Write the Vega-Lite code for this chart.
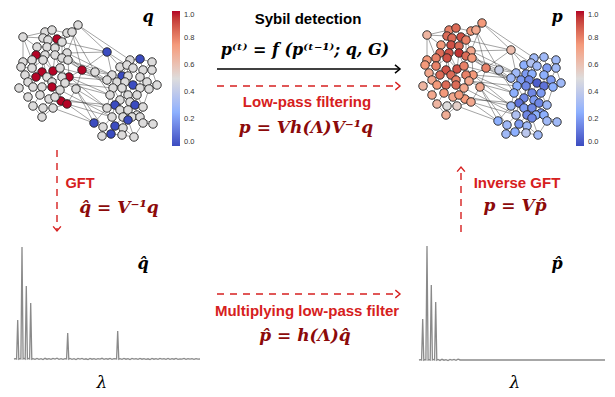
{
  "$schema": "https://vega.github.io/schema/vega-lite/v6.json",
  "width": 615,
  "height": 397,
  "autosize": {"type": "fit", "contains": "padding"},
  "padding": 0,
  "background": "white",
  "config": {"view": {"stroke": null}},
  "datasets": {
    "nodes": [
      {"id":1,"x":78,"y":25,"q":0.5,"p":0.75},{"id":2,"x":45,"y":32,"q":0.5,"p":0.8},{"id":3,"x":52,"y":30,"q":0.5,"p":0.85},{"id":4,"x":67,"y":33,"q":0.5,"p":0.75},{"id":5,"x":72,"y":32,"q":0.5,"p":0.7},
      {"id":6,"x":23,"y":37,"q":0.5,"p":0.65},{"id":7,"x":43,"y":38,"q":0.5,"p":0.85},{"id":8,"x":57,"y":39,"q":1,"p":0.9},{"id":9,"x":48,"y":40,"q":0.5,"p":0.85},{"id":10,"x":62,"y":42,"q":0.5,"p":0.8},
      {"id":11,"x":37,"y":47,"q":0.5,"p":0.75},{"id":12,"x":36,"y":55,"q":1,"p":0.85},{"id":13,"x":47,"y":47,"q":0.5,"p":0.9},{"id":14,"x":55,"y":48,"q":0.5,"p":0.85},{"id":15,"x":67,"y":53,"q":0.5,"p":0.7},
      {"id":16,"x":45,"y":55,"q":0.5,"p":0.9},{"id":17,"x":55,"y":55,"q":0.5,"p":0.95},{"id":18,"x":62,"y":58,"q":0.5,"p":0.85},{"id":19,"x":23,"y":62,"q":0.5,"p":0.75},{"id":20,"x":32,"y":60,"q":0.5,"p":0.8},
      {"id":21,"x":43,"y":60,"q":0.5,"p":0.9},{"id":22,"x":68,"y":60,"q":0.5,"p":0.75},{"id":23,"x":21,"y":67,"q":0.5,"p":0.75},{"id":24,"x":32,"y":68,"q":0.5,"p":0.8},{"id":25,"x":42,"y":72,"q":1,"p":0.9},
      {"id":26,"x":53,"y":71,"q":1,"p":0.9},{"id":27,"x":60,"y":68,"q":0.5,"p":0.8},{"id":28,"x":82,"y":70,"q":1,"p":0.8},{"id":29,"x":25,"y":75,"q":0.5,"p":0.7},{"id":30,"x":36,"y":77,"q":1,"p":0.85},
      {"id":31,"x":47,"y":77,"q":0.5,"p":0.85},{"id":32,"x":52,"y":82,"q":0.5,"p":0.8},{"id":33,"x":69,"y":77,"q":1,"p":0.75},{"id":34,"x":62,"y":77,"q":0.5,"p":0.8},{"id":35,"x":28,"y":82,"q":0.5,"p":0.7},
      {"id":36,"x":42,"y":87,"q":0.5,"p":0.85},{"id":37,"x":52,"y":87,"q":1,"p":0.85},{"id":38,"x":19,"y":88,"q":0.5,"p":0.65},{"id":39,"x":33,"y":87,"q":0.5,"p":0.75},{"id":40,"x":65,"y":83,"q":0.5,"p":0.7},
      {"id":41,"x":76,"y":89,"q":0.5,"p":0.7},{"id":42,"x":60,"y":90,"q":0.5,"p":0.7},{"id":43,"x":40,"y":95,"q":0.5,"p":0.75},{"id":44,"x":49,"y":99,"q":0.5,"p":0.7},{"id":45,"x":61,"y":101,"q":1,"p":0.75},
      {"id":46,"x":67,"y":104,"q":1,"p":0.7},{"id":47,"x":33,"y":106,"q":0.5,"p":0.65},{"id":48,"x":43,"y":108,"q":0.5,"p":0.5},{"id":49,"x":53,"y":108,"q":0.5,"p":0.55},{"id":50,"x":42,"y":117,"q":0.5,"p":0.68},
      {"id":51,"x":28,"y":97,"q":0.5,"p":0.7},{"id":52,"x":55,"y":97,"q":0.5,"p":0.75},
      {"id":53,"x":107,"y":52,"q":0,"p":0.62},{"id":54,"x":140,"y":59,"q":0,"p":0.3},{"id":55,"x":130,"y":60,"q":0.5,"p":0.3},{"id":56,"x":152,"y":62,"q":0.5,"p":0.3},{"id":57,"x":120,"y":67,"q":0.5,"p":0.25},
      {"id":58,"x":127,"y":65,"q":0.5,"p":0.35},{"id":59,"x":133,"y":68,"q":0.5,"p":0.3},{"id":60,"x":143,"y":70,"q":0.5,"p":0.2},{"id":61,"x":152,"y":70,"q":0.5,"p":0.3},{"id":62,"x":95,"y":72,"q":0.5,"p":0.42},
      {"id":63,"x":122,"y":76,"q":0,"p":0.2},{"id":64,"x":112,"y":75,"q":0.5,"p":0.3},{"id":65,"x":128,"y":76,"q":0.5,"p":0.25},{"id":66,"x":140,"y":77,"q":0.5,"p":0.25},{"id":67,"x":107,"y":80,"q":0.5,"p":0.3},
      {"id":68,"x":117,"y":82,"q":0.5,"p":0.2},{"id":69,"x":125,"y":82,"q":0.5,"p":0.15},{"id":70,"x":147,"y":82,"q":0.5,"p":0.2},{"id":71,"x":133,"y":85,"q":0,"p":0.05},{"id":72,"x":157,"y":85,"q":0.5,"p":0.3},
      {"id":73,"x":113,"y":88,"q":0.5,"p":0.25},{"id":74,"x":122,"y":88,"q":0.5,"p":0.15},{"id":75,"x":140,"y":88,"q":0.5,"p":0.1},{"id":76,"x":149,"y":89,"q":0.5,"p":0.25},{"id":77,"x":110,"y":95,"q":0.5,"p":0.25},
      {"id":78,"x":128,"y":95,"q":0.5,"p":0.15},{"id":79,"x":137,"y":95,"q":0.5,"p":0.2},{"id":80,"x":120,"y":100,"q":0.5,"p":0.15},{"id":81,"x":115,"y":105,"q":0,"p":0.1},{"id":82,"x":130,"y":102,"q":0.5,"p":0.2},
      {"id":83,"x":135,"y":105,"q":0,"p":0.15},{"id":84,"x":143,"y":107,"q":0.5,"p":0.3},{"id":85,"x":107,"y":108,"q":0.5,"p":0.3},{"id":86,"x":120,"y":110,"q":0.5,"p":0.2},{"id":87,"x":128,"y":110,"q":0.5,"p":0.15},
      {"id":88,"x":137,"y":115,"q":0.5,"p":0.2},{"id":89,"x":112,"y":117,"q":0.5,"p":0.35},{"id":90,"x":123,"y":117,"q":0.5,"p":0.15},{"id":91,"x":132,"y":117,"q":0.5,"p":0.25},{"id":92,"x":140,"y":117,"q":0.5,"p":0.25},
      {"id":93,"x":94,"y":123,"q":0,"p":0.25},{"id":94,"x":115,"y":126,"q":0,"p":0.2},{"id":95,"x":128,"y":120,"q":0,"p":0.15},{"id":96,"x":103,"y":127,"q":0.5,"p":0.3},{"id":97,"x":143,"y":123,"q":0.5,"p":0.3},
      {"id":98,"x":153,"y":124,"q":0.5,"p":0.3},{"id":99,"x":123,"y":128,"q":0.5,"p":0.3},{"id":100,"x":111,"y":134,"q":0,"p":0.25},{"id":101,"x":102,"y":136,"q":0.5,"p":0.3},{"id":102,"x":122,"y":135,"q":0.5,"p":0.38},
      {"id":103,"x":134,"y":137,"q":0.5,"p":0.3}
    ],
    "edges": [
      {"s":1,"t":5},{"s":1,"t":4},{"s":1,"t":10},{"s":1,"t":53},{"s":1,"t":15},{"s":2,"t":3},{"s":2,"t":7},{"s":2,"t":6},{"s":2,"t":9},{"s":3,"t":8},
      {"s":3,"t":4},{"s":3,"t":9},{"s":4,"t":5},{"s":4,"t":10},{"s":4,"t":8},{"s":5,"t":10},{"s":5,"t":28},{"s":6,"t":11},{"s":6,"t":7},{"s":6,"t":19},
      {"s":6,"t":20},{"s":7,"t":9},{"s":7,"t":11},{"s":7,"t":13},{"s":8,"t":9},{"s":8,"t":10},{"s":8,"t":14},{"s":9,"t":13},{"s":10,"t":14},{"s":10,"t":15},
      {"s":10,"t":18},{"s":11,"t":12},{"s":11,"t":13},{"s":11,"t":20},{"s":12,"t":16},{"s":12,"t":20},{"s":12,"t":24},{"s":13,"t":14},{"s":13,"t":16},{"s":14,"t":17},
      {"s":14,"t":18},{"s":15,"t":22},{"s":15,"t":18},{"s":15,"t":28},{"s":16,"t":17},{"s":16,"t":21},{"s":17,"t":18},{"s":17,"t":26},{"s":17,"t":27},{"s":18,"t":22},
      {"s":18,"t":27},{"s":19,"t":20},{"s":19,"t":23},{"s":20,"t":24},{"s":21,"t":25},{"s":21,"t":24},{"s":21,"t":26},{"s":22,"t":27},{"s":22,"t":28},{"s":22,"t":33},
      {"s":23,"t":29},{"s":23,"t":24},{"s":24,"t":30},{"s":25,"t":30},{"s":25,"t":31},{"s":26,"t":31},{"s":26,"t":32},{"s":27,"t":34},{"s":27,"t":33},{"s":28,"t":33},
      {"s":28,"t":41},{"s":29,"t":35},{"s":29,"t":30},{"s":30,"t":39},{"s":31,"t":32},{"s":31,"t":36},{"s":32,"t":37},{"s":32,"t":34},{"s":33,"t":40},{"s":34,"t":40},
      {"s":34,"t":42},{"s":35,"t":38},{"s":35,"t":39},{"s":36,"t":37},{"s":36,"t":43},{"s":37,"t":42},{"s":37,"t":52},{"s":38,"t":51},{"s":39,"t":43},{"s":39,"t":51},
      {"s":40,"t":41},{"s":40,"t":42},{"s":41,"t":46},{"s":42,"t":45},{"s":43,"t":44},{"s":43,"t":47},{"s":44,"t":48},{"s":44,"t":49},{"s":44,"t":52},{"s":45,"t":46},
      {"s":45,"t":52},{"s":46,"t":49},{"s":47,"t":48},{"s":47,"t":50},{"s":48,"t":50},{"s":49,"t":50},{"s":51,"t":47},{"s":12,"t":30},{"s":21,"t":31},{"s":16,"t":26},
      {"s":3,"t":7},{"s":9,"t":14},
      {"s":53,"t":58},{"s":53,"t":57},{"s":53,"t":64},{"s":54,"t":56},{"s":54,"t":59},{"s":54,"t":60},{"s":55,"t":58},{"s":55,"t":59},{"s":55,"t":54},{"s":56,"t":61},
      {"s":56,"t":60},{"s":57,"t":58},{"s":57,"t":63},{"s":57,"t":64},{"s":58,"t":65},{"s":59,"t":65},{"s":59,"t":66},{"s":60,"t":61},{"s":60,"t":66},{"s":61,"t":70},
      {"s":61,"t":72},{"s":62,"t":67},{"s":62,"t":64},{"s":62,"t":77},{"s":63,"t":65},{"s":63,"t":68},{"s":63,"t":69},{"s":64,"t":67},{"s":64,"t":68},{"s":65,"t":69},
      {"s":65,"t":71},{"s":66,"t":70},{"s":66,"t":71},{"s":66,"t":75},{"s":67,"t":73},{"s":68,"t":73},{"s":68,"t":74},{"s":69,"t":71},{"s":69,"t":74},{"s":70,"t":72},
      {"s":70,"t":76},{"s":71,"t":75},{"s":71,"t":78},{"s":72,"t":76},{"s":73,"t":77},{"s":73,"t":80},{"s":74,"t":78},{"s":74,"t":80},{"s":75,"t":76},{"s":75,"t":79},
      {"s":76,"t":84},{"s":77,"t":85},{"s":77,"t":81},{"s":78,"t":79},{"s":78,"t":82},{"s":79,"t":83},{"s":79,"t":84},{"s":80,"t":81},{"s":80,"t":86},{"s":81,"t":85},
      {"s":81,"t":89},{"s":82,"t":83},{"s":82,"t":87},{"s":83,"t":84},{"s":83,"t":88},{"s":84,"t":92},{"s":85,"t":89},{"s":85,"t":93},{"s":86,"t":87},{"s":86,"t":90},
      {"s":87,"t":88},{"s":87,"t":95},{"s":88,"t":91},{"s":88,"t":92},{"s":89,"t":94},{"s":89,"t":96},{"s":90,"t":94},{"s":90,"t":95},{"s":90,"t":99},{"s":91,"t":95},
      {"s":91,"t":97},{"s":92,"t":97},{"s":92,"t":98},{"s":93,"t":96},{"s":94,"t":100},{"s":94,"t":99},{"s":96,"t":101},{"s":96,"t":100},{"s":97,"t":98},{"s":97,"t":103},
      {"s":99,"t":102},{"s":99,"t":103},{"s":100,"t":101},{"s":100,"t":102},{"s":102,"t":103},{"s":95,"t":103},{"s":69,"t":78},{"s":74,"t":86},{"s":75,"t":82},{"s":58,"t":63},
      {"s":28,"t":62},{"s":28,"t":67},{"s":28,"t":53},{"s":15,"t":53},{"s":22,"t":62},{"s":33,"t":77},{"s":33,"t":85},{"s":40,"t":73},{"s":41,"t":85},{"s":41,"t":93},
      {"s":46,"t":93},{"s":46,"t":89},{"s":45,"t":81},{"s":52,"t":85},{"s":22,"t":64},{"s":27,"t":67},{"s":18,"t":73},{"s":41,"t":96},{"s":40,"t":77},{"s":33,"t":67},
      {"s":1,"t":55},{"s":10,"t":53},{"s":5,"t":62},{"s":15,"t":64},{"s":42,"t":89},{"s":49,"t":93}
    ],
    "specL": [
      {"x":14,"y":359},{"x":15.5,"y":358.6},{"x":16.6,"y":359},{"x":17.7,"y":320},{"x":18.8,"y":359.2},{"x":19.9,"y":358.7},{"x":20.9,"y":359},{"x":22,"y":247},{"x":23.1,"y":359},{"x":24.1,"y":358.5},
      {"x":25.2,"y":359.1},{"x":26.3,"y":286},{"x":27.4,"y":359},{"x":28.5,"y":358.4},{"x":29.6,"y":359},{"x":30.7,"y":303},{"x":31.8,"y":359.2},{"x":33,"y":358.6},{"x":35,"y":359.4},{"x":37,"y":358.5},
      {"x":39,"y":359.3},{"x":41,"y":358.7},{"x":43,"y":359.5},{"x":45,"y":358.3},{"x":47,"y":359.2},{"x":49,"y":358.6},{"x":51,"y":359.4},{"x":53,"y":358.4},{"x":55,"y":359.1},{"x":57,"y":358.2},
      {"x":59,"y":359.3},{"x":61,"y":358.7},{"x":63,"y":359.4},{"x":65,"y":358.6},{"x":66.6,"y":359},{"x":67.7,"y":333},{"x":68.8,"y":359.2},{"x":70,"y":358.5},{"x":72,"y":359.3},{"x":74,"y":358.7},
      {"x":76,"y":359.5},{"x":78,"y":358.5},{"x":80,"y":359.1},{"x":82,"y":358.4},{"x":84,"y":359.3},{"x":86,"y":358.8},{"x":88,"y":359.5},{"x":90,"y":358.4},{"x":92,"y":359.2},{"x":94,"y":358.6},
      {"x":96,"y":359.4},{"x":98,"y":358.7},{"x":100,"y":359.1},{"x":102,"y":358.3},{"x":104,"y":359.4},{"x":106,"y":358.6},{"x":108,"y":359.2},{"x":110,"y":358.5},{"x":112,"y":359.3},{"x":114,"y":358.7},
      {"x":116.6,"y":359},{"x":117.7,"y":331},{"x":118.8,"y":359.2},{"x":120,"y":358.6},{"x":122,"y":359.4},{"x":124,"y":358.5},{"x":126,"y":359.2},{"x":128,"y":358.6},{"x":130,"y":359.5},{"x":132,"y":358.4},
      {"x":134,"y":359.1},{"x":136,"y":358.7},{"x":138,"y":359.4},{"x":140,"y":358.5},{"x":142,"y":359.2},{"x":144,"y":358.6},{"x":146,"y":359.3},{"x":148,"y":358.8},{"x":150,"y":359.5},{"x":152,"y":358.4},
      {"x":154,"y":359.2},{"x":156,"y":358.7},{"x":158,"y":359.4},{"x":160,"y":358.5},{"x":162,"y":359.1},{"x":164,"y":358.6},{"x":166,"y":359.3},{"x":168,"y":358.5},{"x":170,"y":359.4},{"x":172,"y":358.7},
      {"x":174,"y":359.2},{"x":176,"y":358.4},{"x":178,"y":359.3},{"x":180,"y":358.8},{"x":182,"y":359.1},{"x":184,"y":358.5},{"x":186,"y":359.4},{"x":188,"y":358.6},{"x":190,"y":359.2},{"x":192,"y":358.7},
      {"x":194,"y":359.3},{"x":196,"y":358.6},{"x":198,"y":359.1},{"x":200,"y":359}
    ],
    "specR": [
      {"x":419,"y":360},{"x":420.5,"y":359.6},{"x":421.6,"y":360},{"x":422.7,"y":319},{"x":423.8,"y":360.2},{"x":424.9,"y":359.7},{"x":425.9,"y":360},{"x":427,"y":246},{"x":428.1,"y":360},{"x":429.1,"y":359.6},
      {"x":430.2,"y":360.1},{"x":431.3,"y":285},{"x":432.4,"y":360},{"x":433.5,"y":359.5},{"x":434.6,"y":360},{"x":435.7,"y":302},{"x":436.8,"y":360.2},{"x":438,"y":359.5},{"x":440,"y":360.4},{"x":442,"y":359.3},
      {"x":444,"y":360.2},{"x":446,"y":359.6},{"x":448,"y":360.5},{"x":450,"y":359.4},{"x":452,"y":360.1},{"x":454,"y":359.5},{"x":456,"y":360.3},{"x":458,"y":359.1},{"x":459,"y":359.4},{"x":460,"y":360},
      {"x":605,"y":360}
    ],
    "arrows": [
      {"x":217,"y":69,"x2":400,"y2":69,"k":"solid","a":0},
      {"x":217,"y":86,"x2":400,"y2":86,"k":"dash","a":0},
      {"x":217,"y":294,"x2":400,"y2":294,"k":"dash","a":0},
      {"x":57,"y":150,"x2":57,"y2":231,"k":"dash","a":90},
      {"x":461,"y":232,"x2":461,"y2":167,"k":"dash","a":-90}
    ],
    "labels": [
      {"t":"Sybil detection","x":308,"y":24,"g":"black"},
      {"t":"Low-pass filtering","x":307,"y":107,"g":"red"},
      {"t":"GFT","x":80,"y":188,"g":"redsmall"},
      {"t":"Inverse GFT","x":517,"y":188,"g":"red"},
      {"t":"Multiplying low-pass filter","x":307,"y":316,"g":"red"},
      {"t":"p⁽ᵗ⁾ = f (p⁽ᵗ⁻¹⁾; q, G)","x":305,"y":55,"g":"mathk"},
      {"t":"p = Vh(Λ)V⁻¹q","x":306,"y":133,"g":"mathr"},
      {"t":"q̂ = V⁻¹q","x":119,"y":213,"g":"mathr"},
      {"t":"p = Vp̂","x":515,"y":211,"g":"mathr"},
      {"t":"p̂ = h(Λ)q̂","x":305,"y":341,"g":"mathr"},
      {"t":"q","x":148,"y":22,"g":"mathk"},
      {"t":"p","x":557,"y":22,"g":"mathk"},
      {"t":"q̂","x":143,"y":269,"g":"mathk"},
      {"t":"p̂","x":557,"y":269,"g":"mathk"},
      {"t":"λ","x":102,"y":388,"g":"lam"},
      {"t":"λ","x":515,"y":388,"g":"lam"}
    ]
  },
  "layer": [
    {
      "layer": [
        {
          "data": {"name": "edges"},
          "transform": [
            {"lookup": "s", "from": {"data": {"name": "nodes"}, "key": "id", "fields": ["x", "y"]}},
            {"lookup": "t", "from": {"data": {"name": "nodes"}, "key": "id", "fields": ["x", "y"]}, "as": ["x2", "y2"]}
          ],
          "mark": {"type": "rule", "stroke": "#3a3a3a", "strokeWidth": 0.55, "opacity": 0.85},
          "encoding": {
            "x": {"field": "x", "type": "quantitative", "scale": {"domain": [0, 615], "nice": false, "zero": false}, "axis": null},
            "y": {"field": "y", "type": "quantitative", "scale": {"domain": [0, 397], "nice": false, "zero": false, "reverse": true}, "axis": null},
            "x2": {"field": "x2"},
            "y2": {"field": "y2"}
          }
        },
        {
          "data": {"name": "nodes"},
          "mark": {"type": "point", "shape": "circle", "filled": true, "size": 72, "stroke": "#222222", "strokeWidth": 0.9, "opacity": 1},
          "encoding": {
            "x": {"field": "x", "type": "quantitative", "scale": {"domain": [0, 615], "nice": false, "zero": false}, "axis": null},
            "y": {"field": "y", "type": "quantitative", "scale": {"domain": [0, 397], "nice": false, "zero": false, "reverse": true}, "axis": null},
            "fill": {
              "field": "q", "type": "quantitative",
              "scale": {"domain": [0, 1], "range": ["#3b4cc0", "#8db0fe", "#dddcdc", "#f49a7b", "#b40426"], "interpolate": "lab"},
              "legend": {"orient": "none", "legendX": 172, "legendY": 11, "direction": "vertical", "gradientLength": 135, "gradientThickness": 8, "title": null, "values": [0, 0.2, 0.4, 0.6, 0.8, 1], "format": ".1f", "labelFontSize": 7.5, "labelColor": "#333333", "labelOffset": 4, "gradientStrokeWidth": 0, "padding": 0}
            }
          }
        },
        {
          "data": {"name": "specL"},
          "mark": {"type": "line", "color": "#8a8a8a", "strokeWidth": 1.3},
          "encoding": {
            "x": {"field": "x", "type": "quantitative", "scale": {"domain": [0, 615], "nice": false, "zero": false}, "axis": null},
            "y": {"field": "y", "type": "quantitative", "scale": {"domain": [0, 397], "nice": false, "zero": false, "reverse": true}, "axis": null}
          }
        },
        {
          "data": {"name": "specR"},
          "mark": {"type": "line", "color": "#8a8a8a", "strokeWidth": 1.3},
          "encoding": {
            "x": {"field": "x", "type": "quantitative", "scale": {"domain": [0, 615], "nice": false, "zero": false}, "axis": null},
            "y": {"field": "y", "type": "quantitative", "scale": {"domain": [0, 397], "nice": false, "zero": false, "reverse": true}, "axis": null}
          }
        },
        {
          "data": {"name": "arrows"},
          "transform": [{"filter": "datum.k == 'solid'"}],
          "mark": {"type": "rule", "stroke": "#000000", "strokeWidth": 1.5},
          "encoding": {
            "x": {"field": "x", "type": "quantitative", "scale": {"domain": [0, 615], "nice": false, "zero": false}, "axis": null},
            "y": {"field": "y", "type": "quantitative", "scale": {"domain": [0, 397], "nice": false, "zero": false, "reverse": true}, "axis": null},
            "x2": {"field": "x2"},
            "y2": {"field": "y2"}
          }
        },
        {
          "data": {"name": "arrows"},
          "transform": [{"filter": "datum.k == 'dash'"}],
          "mark": {"type": "rule", "stroke": "#d62020", "strokeWidth": 1.4, "strokeDash": [7, 6]},
          "encoding": {
            "x": {"field": "x", "type": "quantitative", "scale": {"domain": [0, 615], "nice": false, "zero": false}, "axis": null},
            "y": {"field": "y", "type": "quantitative", "scale": {"domain": [0, 397], "nice": false, "zero": false, "reverse": true}, "axis": null},
            "x2": {"field": "x2"},
            "y2": {"field": "y2"}
          }
        },
        {
          "data": {"name": "arrows"},
          "transform": [{"filter": "datum.k == 'solid'"}],
          "mark": {"type": "point", "shape": "M-1.2,-1L0,0L-1.2,1", "filled": false, "size": 70, "stroke": "#000000", "strokeWidth": 1.5, "opacity": 1},
          "encoding": {
            "x": {"field": "x2", "type": "quantitative", "scale": {"domain": [0, 615], "nice": false, "zero": false}, "axis": null},
            "y": {"field": "y2", "type": "quantitative", "scale": {"domain": [0, 397], "nice": false, "zero": false, "reverse": true}, "axis": null},
            "angle": {"field": "a", "type": "quantitative", "scale": null}
          }
        },
        {
          "data": {"name": "arrows"},
          "transform": [{"filter": "datum.k == 'dash'"}],
          "mark": {"type": "point", "shape": "M-1.2,-1L0,0L-1.2,1", "filled": false, "size": 60, "stroke": "#d62020", "strokeWidth": 1.4, "opacity": 1},
          "encoding": {
            "x": {"field": "x2", "type": "quantitative", "scale": {"domain": [0, 615], "nice": false, "zero": false}, "axis": null},
            "y": {"field": "y2", "type": "quantitative", "scale": {"domain": [0, 397], "nice": false, "zero": false, "reverse": true}, "axis": null},
            "angle": {"field": "a", "type": "quantitative", "scale": null}
          }
        },
        {
          "data": {"name": "labels"},
          "transform": [{"filter": "datum.g == 'black'"}],
          "mark": {"type": "text", "font": "Liberation Sans", "fontWeight": "bold", "fontSize": 15, "color": "#000000", "align": "center", "baseline": "alphabetic"},
          "encoding": {
            "x": {"field": "x", "type": "quantitative", "scale": {"domain": [0, 615], "nice": false, "zero": false}, "axis": null},
            "y": {"field": "y", "type": "quantitative", "scale": {"domain": [0, 397], "nice": false, "zero": false, "reverse": true}, "axis": null},
            "text": {"field": "t"}
          }
        },
        {
          "data": {"name": "labels"},
          "transform": [{"filter": "datum.g == 'red'"}],
          "mark": {"type": "text", "font": "Liberation Sans", "fontWeight": "bold", "fontSize": 15, "color": "#d62020", "align": "center", "baseline": "alphabetic"},
          "encoding": {
            "x": {"field": "x", "type": "quantitative", "scale": {"domain": [0, 615], "nice": false, "zero": false}, "axis": null},
            "y": {"field": "y", "type": "quantitative", "scale": {"domain": [0, 397], "nice": false, "zero": false, "reverse": true}, "axis": null},
            "text": {"field": "t"}
          }
        },
        {
          "data": {"name": "labels"},
          "transform": [{"filter": "datum.g == 'redsmall'"}],
          "mark": {"type": "text", "font": "Liberation Sans", "fontWeight": "bold", "fontSize": 14.5, "color": "#d62020", "align": "center", "baseline": "alphabetic"},
          "encoding": {
            "x": {"field": "x", "type": "quantitative", "scale": {"domain": [0, 615], "nice": false, "zero": false}, "axis": null},
            "y": {"field": "y", "type": "quantitative", "scale": {"domain": [0, 397], "nice": false, "zero": false, "reverse": true}, "axis": null},
            "text": {"field": "t"}
          }
        },
        {
          "data": {"name": "labels"},
          "transform": [{"filter": "datum.g == 'mathk'"}],
          "mark": {"type": "text", "font": "DejaVu Serif", "fontWeight": "bold", "fontStyle": "italic", "fontSize": 16, "color": "#000000", "align": "center", "baseline": "alphabetic"},
          "encoding": {
            "x": {"field": "x", "type": "quantitative", "scale": {"domain": [0, 615], "nice": false, "zero": false}, "axis": null},
            "y": {"field": "y", "type": "quantitative", "scale": {"domain": [0, 397], "nice": false, "zero": false, "reverse": true}, "axis": null},
            "text": {"field": "t"}
          }
        },
        {
          "data": {"name": "labels"},
          "transform": [{"filter": "datum.g == 'mathr'"}],
          "mark": {"type": "text", "font": "DejaVu Serif", "fontWeight": "bold", "fontStyle": "italic", "fontSize": 17, "color": "#8c0a0a", "align": "center", "baseline": "alphabetic"},
          "encoding": {
            "x": {"field": "x", "type": "quantitative", "scale": {"domain": [0, 615], "nice": false, "zero": false}, "axis": null},
            "y": {"field": "y", "type": "quantitative", "scale": {"domain": [0, 397], "nice": false, "zero": false, "reverse": true}, "axis": null},
            "text": {"field": "t"}
          }
        },
        {
          "data": {"name": "labels"},
          "transform": [{"filter": "datum.g == 'lam'"}],
          "mark": {"type": "text", "font": "DejaVu Serif", "fontStyle": "italic", "fontSize": 17, "color": "#000000", "align": "center", "baseline": "alphabetic"},
          "encoding": {
            "x": {"field": "x", "type": "quantitative", "scale": {"domain": [0, 615], "nice": false, "zero": false}, "axis": null},
            "y": {"field": "y", "type": "quantitative", "scale": {"domain": [0, 397], "nice": false, "zero": false, "reverse": true}, "axis": null},
            "text": {"field": "t"}
          }
        }
      ]
    },
    {
      "layer": [
        {
          "data": {"name": "edges"},
          "transform": [
            {"lookup": "s", "from": {"data": {"name": "nodes"}, "key": "id", "fields": ["x", "y"]}},
            {"lookup": "t", "from": {"data": {"name": "nodes"}, "key": "id", "fields": ["x", "y"]}, "as": ["x2", "y2"]}
          ],
          "mark": {"type": "rule", "stroke": "#3a3a3a", "strokeWidth": 0.55, "opacity": 0.85},
          "encoding": {
            "x": {"field": "x", "type": "quantitative", "scale": {"domain": [-404, 211], "nice": false, "zero": false}, "axis": null},
            "y": {"field": "y", "type": "quantitative", "scale": {"domain": [2, 399], "nice": false, "zero": false, "reverse": true}, "axis": null},
            "x2": {"field": "x2"},
            "y2": {"field": "y2"}
          }
        },
        {
          "data": {"name": "nodes"},
          "mark": {"type": "point", "shape": "circle", "filled": true, "size": 72, "stroke": "#222222", "strokeWidth": 0.9, "opacity": 1},
          "encoding": {
            "x": {"field": "x", "type": "quantitative", "scale": {"domain": [-404, 211], "nice": false, "zero": false}, "axis": null},
            "y": {"field": "y", "type": "quantitative", "scale": {"domain": [2, 399], "nice": false, "zero": false, "reverse": true}, "axis": null},
            "fill": {
              "field": "p", "type": "quantitative",
              "scale": {"domain": [0, 1], "range": ["#3b4cc0", "#8db0fe", "#dddcdc", "#f49a7b", "#b40426"], "interpolate": "lab"},
              "legend": {"orient": "none", "legendX": 576, "legendY": 11, "direction": "vertical", "gradientLength": 135, "gradientThickness": 8, "title": null, "values": [0, 0.2, 0.4, 0.6, 0.8, 1], "format": ".1f", "labelFontSize": 7.5, "labelColor": "#333333", "labelOffset": 4, "gradientStrokeWidth": 0, "padding": 0}
            }
          }
        }
      ]
    }
  ],
  "resolve": {"scale": {"x": "independent", "y": "independent", "fill": "independent"}}
}
